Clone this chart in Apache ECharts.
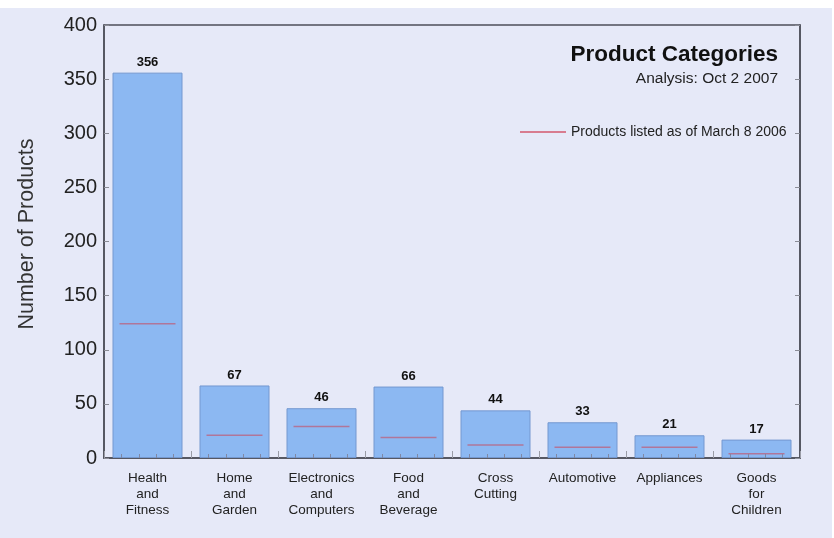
<!DOCTYPE html>
<html>
<head>
<meta charset="utf-8">
<script src="https://cdn.jsdelivr.net/npm/echarts@6/dist/echarts.min.js"></script>
<style>
  html, body { margin: 0; padding: 0; background: #ffffff; }
  #chart { position: absolute; left: 0; top: 8px; width: 832px; height: 530px; }
</style>
</head>
<body>
<div id="chart"></div>
<script>
const categories = [
  'Health\nand\nFitness', 'Home\nand\nGarden', 'Electronics\nand\nComputers', 'Food\nand\nBeverage',
  'Cross\nCutting', 'Automotive', 'Appliances', 'Goods\nfor\nChildren'
];
const products2007 = [356, 67, 46, 66, 44, 33, 21, 17];
const products2006 = [124, 21, 29, 19, 12, 10, 10, 4];
const yTicks = [0, 50, 100, 150, 200, 250, 300, 350, 400];
const legendName = 'Products listed as of March 8 2006';

const FONT = "'Liberation Sans', Arial, Helvetica, sans-serif";
const chart = echarts.init(document.getElementById('chart'));

const valueAxisBase = {
  type: 'value',
  min: yTicks[0],
  max: yTicks[yTicks.length - 1],
  interval: yTicks[1] - yTicks[0],
  splitLine: { show: false },
  axisLine: { show: true, lineStyle: { color: '#4d4f5a', width: 1.5 } },
  axisTick: { show: true, inside: true, length: 5, lineStyle: { color: '#8a8c96' } }
};

chart.setOption({
  backgroundColor: '#e6e9f8',
  animation: false,
  textStyle: { fontFamily: FONT },
  title: [
    { text: 'Product Categories', right: 49, top: 30,
      textStyle: { fontFamily: FONT, fontSize: 22.5, fontWeight: 'bold', color: '#111' } },
    { text: 'Analysis: Oct 2 2007', right: 49, top: 58,
      textStyle: { fontFamily: FONT, fontSize: 15.5, fontWeight: 'normal', color: '#222' } }
  ],
  graphic: [
    { type: 'text', x: 27, y: 226, rotation: Math.PI / 2,
      style: { text: 'Number of Products', fontFamily: FONT, fontSize: 21.5, fill: '#333',
        align: 'center', verticalAlign: 'middle' } }
  ],
  legend: {
    left: 515, top: 112,
    icon: 'rect', itemWidth: 46, itemHeight: 1.5, itemGap: 8,
    textStyle: { fontFamily: FONT, fontSize: 14, color: '#222' },
    data: [{ name: legendName, itemStyle: { color: '#d0485e' } }]
  },
  grid: {
    left: 104, right: 32, top: 17, bottom: 80,
    show: true, borderColor: '#4d4f5a', borderWidth: 1.5, backgroundColor: 'transparent'
  },
  xAxis: [
    {
      type: 'category', data: categories, position: 'bottom',
      axisLine: { show: true, lineStyle: { color: '#4d4f5a', width: 1.5 } },
      axisTick: { show: false },
      axisLabel: { fontFamily: FONT, fontSize: 13.5, lineHeight: 16, color: '#222', margin: 12, interval: 0 }
    },
    {
      type: 'value', min: 0, max: categories.length, interval: 1, position: 'bottom',
      z: 10,
      axisLine: { show: false }, axisLabel: { show: false }, splitLine: { show: false },
      axisTick: { show: true, inside: true, length: 7, lineStyle: { color: '#9a9ca6' } },
      minorTick: { show: true, splitNumber: 5, length: 4, lineStyle: { color: '#7f88a6' } },
      minorSplitLine: { show: false }
    }
  ],
  yAxis: [
    Object.assign({}, valueAxisBase, {
      position: 'left',
      axisLabel: { fontFamily: FONT, fontSize: 20, color: '#222', margin: 7 }
    }),
    Object.assign({}, valueAxisBase, {
      position: 'right',
      axisLabel: { show: false }
    })
  ],
  series: [
    {
      type: 'bar', xAxisIndex: 0, yAxisIndex: 0,
      data: products2007,
      barWidth: 70,
      itemStyle: { color: '#8cb8f2', borderColor: '#7498d0', borderWidth: 1 },
      label: { show: true, position: 'top', distance: 4,
        fontFamily: FONT, fontSize: 13, fontWeight: 'bold', color: '#111' },
      z: 2
    },
    {
      name: legendName,
      type: 'scatter', xAxisIndex: 0, yAxisIndex: 0,
      data: products2006,
      symbol: 'rect', symbolSize: [56, 1.5],
      itemStyle: { color: '#b46f90', opacity: 0.9 },
      z: 5
    }
  ]
});
</script>
</body>
</html>
